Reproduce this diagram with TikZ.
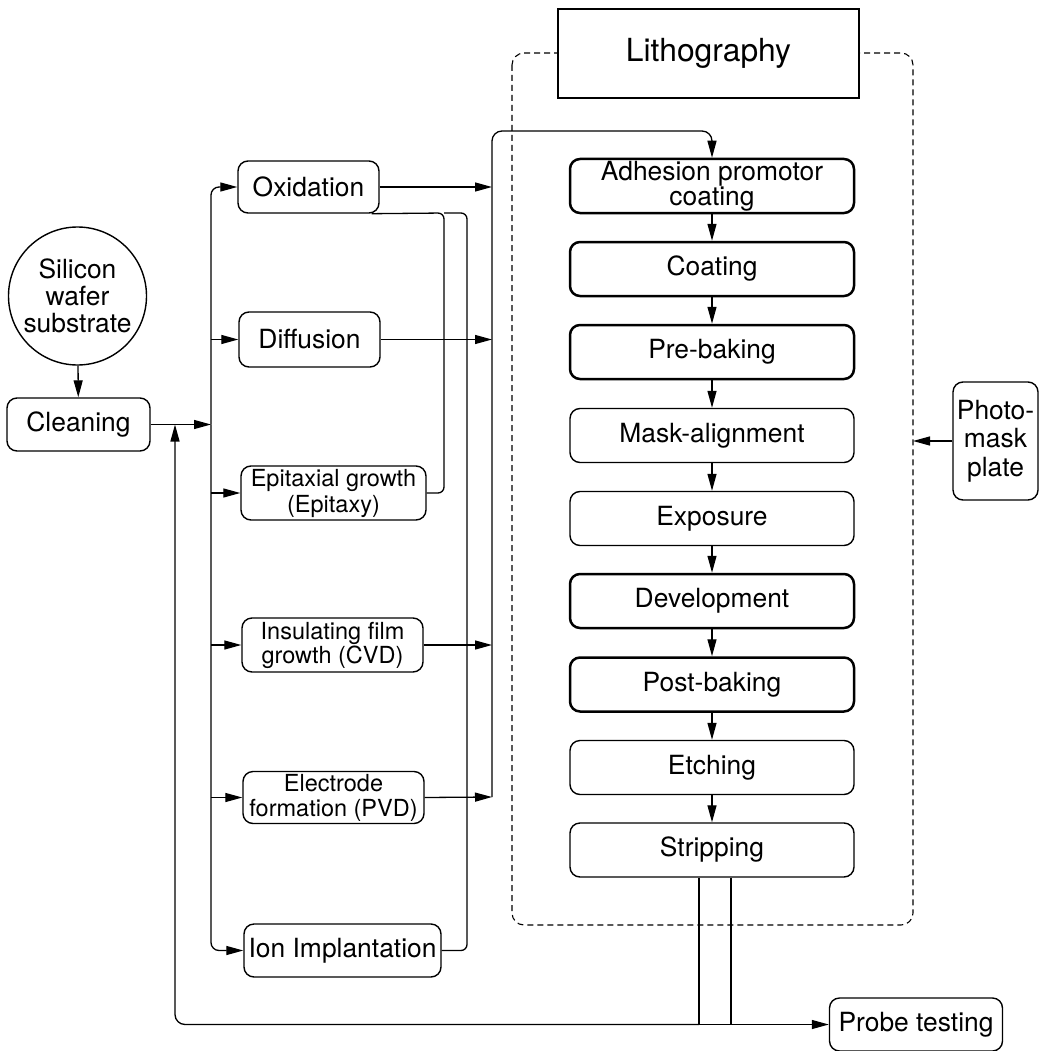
\documentclass[tikz,border=0pt]{standalone}
\usepackage{fontspec}
\setmainfont{TeX Gyre Heros}
\usetikzlibrary{arrows.meta}
\newcommand\fmain{\fontsize{26.4}{27}\selectfont}
\newcommand\flitho{\fontsize{31.8}{34}\selectfont}
\begin{document}
\begin{tikzpicture}[x=1pt,y=-1pt,
  box/.style={draw, rounded corners=10pt, line width=1.4pt, inner sep=0pt, align=center, font=\fmain},
  heavybox/.style={box, line width=2.5pt},
  litbox/.style={minimum width=284pt, minimum height=54pt},
  conn/.style={line width=1.3pt},
  arr/.style={conn, -{Triangle[length=17pt,width=9pt]}},
  dashbox/.style={line width=1.1pt, dash pattern=on 6pt off 4pt, rounded corners=12pt}]
\useasboundingbox (0,0) rectangle (1040,1051);

% left part
\node[draw, circle, line width=1.4pt, minimum size=138pt, inner sep=0pt, align=center, font=\fmain] (wafer) at (77.5,296) {Silicon\\wafer\\substrate};
\node[box, minimum width=143pt, minimum height=53pt] (clean) at (78.5,424.5) {Cleaning};
\node[box, minimum width=141pt, minimum height=52pt] (ox) at (308.5,187) {Oxidation};
\node[box, minimum width=141pt, minimum height=55pt] (dif) at (309.5,339.5) {Diffusion};
\node[box, minimum width=185pt, minimum height=54pt, font=\fontsize{23.5}{26}\selectfont] (epi) at (333.5,493) {Epitaxial growth\\(Epitaxy)};
\node[box, minimum width=181pt, minimum height=54pt, font=\fontsize{23.5}{24}\selectfont] (ins) at (332.5,645) {Insulating film\\growth (CVD)};
\node[box, minimum width=181pt, minimum height=52pt, font=\fontsize{23.5}{25}\selectfont] (ele) at (333.5,797.5) {Electrode\\formation (PVD)};
\node[box, minimum width=197pt, minimum height=53pt] (ion) at (342.5,950.5) {Ion Implantation};

% lithography group
\draw[dashbox] (512,53) rectangle (913,925);
\node[draw, line width=2.5pt, fill=white, minimum width=301pt, minimum height=89pt, inner sep=0pt, font=\flitho] (lit) at (708.5,53.5) {Lithography};
\node[heavybox, litbox, font=\fontsize{26.4}{23}\selectfont] (adh) at (712,186) {Adhesion promotor\\coating};
\node[heavybox, litbox] (coat) at (712,269) {Coating};
\node[heavybox, litbox] (pre) at (712,352) {Pre-baking};
\node[box, litbox] (mask) at (712,435.5) {Mask-alignment};
\node[box, litbox] (expo) at (712,518.5) {Exposure};
\node[heavybox, litbox] (dev) at (712,601) {Development};
\node[heavybox, litbox] (post) at (712,684.5) {Post-baking};
\node[box, litbox] (etch) at (712,767.5) {Etching};
\node[box, litbox] (strip) at (712,850) {Stripping};

\node[box, minimum width=85pt, minimum height=118pt, font=\fontsize{26.4}{28.5}\selectfont] (pm) at (995.5,441) {Photo-\\mask\\plate};
\node[box, minimum width=173pt, minimum height=53pt] (probe) at (916,1024.5) {Probe testing};

% coordinates
\coordinate (bL) at (211,424.5);
\coordinate (rB) at (492,797);
\coordinate (rTop) at (492,131);
\coordinate (epiTop) at (444,213);
\coordinate (ionTop) at (467,213);
\coordinate (j1) at (699,1024.5);
\coordinate (j2) at (731,1024.5);
\coordinate (retUp) at (175,424.5);
\coordinate (dashR) at (913,441);

% connectors
\draw[arr] (wafer) -- (clean);
\draw[arr] (clean.east) -- (bL);
\draw[arr, rounded corners=8pt] (bL) |- (ox.west);
\draw[arr, rounded corners=8pt] (bL) |- (ion.west);
\draw[arr] (bL |- dif.west) -- (dif.west);
\draw[arr] (bL |- epi.west) -- (epi.west);
\draw[arr] (bL |- ins.west) -- (ins.west);
\draw[arr] (bL |- ele.west) -- (ele.west);

\draw[arr] (ox.east) -- (ox.east -| rB);
\draw[arr] (dif.east) -- (dif.east -| rB);
\draw[arr] (ins.east) -- (ins.east -| rB);
\draw[arr] (ele.east) -- (rB);
\draw[arr, rounded corners=10pt] (rB) -- (rTop) -| (adh.north);

\draw[conn, rounded corners=6pt] (epi.east) -| (epiTop) -- ([xshift=-8pt]ox.south east);
\draw[conn, rounded corners=6pt] (ion.east) -| (ionTop) -- (epiTop);

\draw[arr] (adh) -- (coat);
\draw[arr] (coat) -- (pre);
\draw[arr] (pre) -- (mask);
\draw[arr] (mask) -- (expo);
\draw[arr] (expo) -- (dev);
\draw[arr] (dev) -- (post);
\draw[arr] (post) -- (etch);
\draw[arr] (etch) -- (strip);

\draw[conn] (strip.south -| j1) -- (j1);
\draw[conn] (strip.south -| j2) -- (j2);
\draw[arr] (j1) -- (probe.west);
\draw[arr, rounded corners=10pt] (j1) -| (retUp);

\draw[arr] (pm.west) -- (dashR);
\end{tikzpicture}
\end{document}
